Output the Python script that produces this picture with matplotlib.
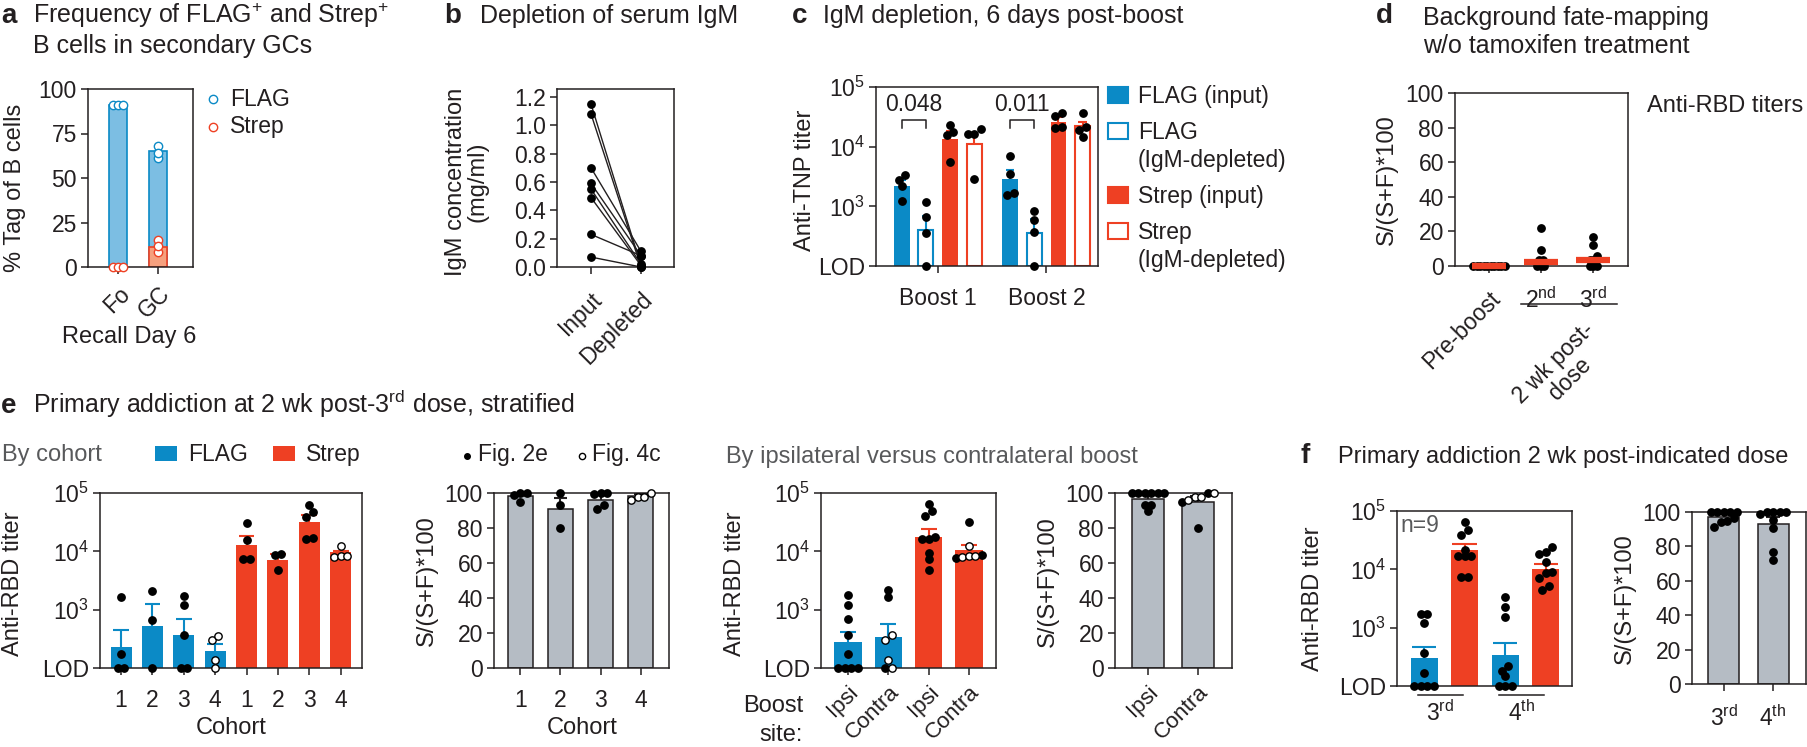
import numpy as np
import matplotlib
matplotlib.use('Agg')
import matplotlib.pyplot as plt
from matplotlib.patches import Rectangle
from matplotlib.lines import Line2D
from matplotlib.ticker import NullLocator

# ---------------- data ----------------
LOD = 100

# a: % tag of B cells
a_groups = ['Fo', 'GC']
a_flag_bar = [91, 65]
a_strep_bar = [0, 11]
a_flag_pts = [[91, 91, 91], [68, 61, 64]]
a_strep_pts = [[0, 0, 0], [15, 8.5, 12]]

# b: serum IgM (mg/ml), paired
b_groups = ['Input', 'Depleted']
b_input = [1.15, 1.08, 0.70, 0.59, 0.55, 0.49, 0.23, 0.07]
b_depleted = [0.01, 0.0, 0.11, 0.08, 0.02, 0.01, 0.08, 0.0]

# c: anti-TNP titers
c_groups = ['Boost 1', 'Boost 2']
c_series = ['FLAG (input)', 'FLAG\n(IgM-depleted)', 'Strep (input)', 'Strep\n(IgM-depleted)']
c_means = [[2220, 400, 13500, 11000], [2840, 364, 26100, 21800]]
c_err_top = [[2760, 685, 18400, 16000], [4070, 625, 31000, 25500]]
c_points = [
    [[2760, 3310, 2220, 1225], [1160, 650, 364, 100],
     [23300, 17500, 15800, 5550], [19700, 16400, 16000, 2870]],
    [[7000, 3490, 1690, 1545], [820, 587, 373, 100],
     [32100, 36600, 20400, 21000], [36600, 21000, 19200, 14800]],
]
c_pvals = ['0.048', '0.011']

# d: background fate-mapping
d_groups = ['Pre-boost', '2$^{\\mathrm{nd}}$', '3$^{\\mathrm{rd}}$']
d_points = [[0] * 10, [22, 9.4, 3.7, 3.7, 0, 0, 0], [17, 12, 5.6, 3.7, 3.7, 0, 0, 0]]
d_means = [0, 2.3, 3.3]

# e: by cohort
e_cohorts = ['1', '2', '3', '4']
e1_flag_mean = [229, 518, 373, 193]
e1_flag_err = [454, 1268, 692, 261]
e1_flag_filled = [[1627, 174, 100, 100], [2117, 674, 100], [1693, 1203, 368, 100, 100], []]
e1_flag_open = [[], [], [], [306, 349, 135, 100]]
e1_strep_mean = [12680, 7200, 31840, 9610]
e1_strep_err = [18070, 9120, 41980, 10000]
e1_strep_filled = [[30600, 15450, 7390, 7390], [8990, 8530, 4720],
                   [63100, 47860, 39260, 16480, 16930], []]
e1_strep_open = [[], [], [], [12190, 7890, 8210, 8210]]

e2_mean = [98.5, 90.8, 96.2, 98.5]
e2_err = [99.5, 97.1, 99.4, 99.5]
e2_filled = [[100, 100, 98.9, 95], [100, 93.1, 79.9], [100, 100, 99.4, 90.8, 93.1], []]
e2_open = [[], [], [], [100, 96, 98, 98]]

# e: by boost site
e3_sites = ['Ipsi', 'Contra', 'Ipsi', 'Contra']
e3_mean = [277, 337, 17740, 10600]
e3_err = [411, 557, 24040, 12900]
e3_filled = [[1758, 1214, 689, 370, 172, 100, 100, 100, 100], [2168, 1667, 100],
             [64700, 40800, 49000, 17300, 16200, 16200, 9290, 7320, 4800], [32100, 7620, 8800]]
e3_open = [[], [365, 308, 135, 100], [], [12190, 7890, 8210, 8210]]

e4_sites = ['Ipsi', 'Contra']
e4_mean = [96.7, 94.8]
e4_err = [99.0, 98.1]
e4_filled = [[100, 100, 100, 100, 100, 100, 93, 93, 90], [100, 94.8, 80]]
e4_open = [[], [98, 98, 100, 96]]

# f: by dose
f_doses = ['3$^{\\mathrm{rd}}$', '4$^{\\mathrm{th}}$']
f1_flag_mean = [302, 336]
f1_flag_err = [460, 555]
f1_flag_pts = [[1700, 1700, 1190, 373, 169, 100, 100, 100, 100],
               [3420, 2300, 1510, 220, 183, 148, 100, 100, 100]]
f1_strep_mean = [21100, 10200]
f1_strep_err = [27400, 12400]
f1_strep_pts = [[63800, 47700, 39200, 21600, 16600, 16600, 16600, 7350, 7350],
                [23800, 19500, 18200, 13100, 8840, 8600, 7060, 4450, 5280]]
f2_mean = [97.1, 92.8]
f2_err = [99.4, 97.1]
f2_pts = [[100, 100, 100, 100, 100, 96.5, 95, 94, 91],
          [100, 100, 100, 100, 99, 95.5, 90.5, 77, 72]]

# ---------------- style ----------------
BLUE = '#0b8ac6'
RED = '#ee4023'
GRAY = '#b5bcc4'
LBLUE = '#7cbee3'
SALMON = '#f5a07e'
INK = '#231f20'
SUB = '#58595b'

plt.rcParams['font.family'] = ['Liberation Sans', 'DejaVu Sans']
plt.rcParams['mathtext.fontset'] = 'custom'
plt.rcParams['mathtext.rm'] = 'Liberation Sans'
plt.rcParams['mathtext.it'] = 'Liberation Sans:italic'
plt.rcParams['mathtext.bf'] = 'Liberation Sans:bold'

TICK = 16.5
LABEL = 17
LEG = 16.5
TITLE = 18
LETTER = 20

W, H = 1808, 747
fig = plt.figure(figsize=(W / 100, H / 100), dpi=100)

BOX = {
    'a': (88, 89, 193, 267),
    'b': (557, 89, 674, 267),
    'c': (876, 87, 1098, 266),
    'd': (1455, 93, 1628, 266),
    'e1': (100, 493, 362, 668),
    'e2': (494, 493, 669, 668),
    'e3': (821, 493, 996, 668),
    'e4': (1115, 493, 1232, 668),
    'f1': (1397, 511, 1572, 686),
    'f2': (1692, 512, 1806, 684),
}


def fx(x):
    return x / W


def fy(y):
    return 1 - y / H


def ftext(x, y, s, **kw):
    kw.setdefault('color', INK)
    return fig.text(fx(x), fy(y), s, **kw)


def make(key, xlim):
    x0, y0, x1, y1 = BOX[key]
    ax = fig.add_axes([fx(x0), fy(y1), (x1 - x0) / W, (y1 - y0) / H])
    ax.set_xlim(*xlim)
    for s in ax.spines.values():
        s.set_linewidth(1.1)
        s.set_color(INK)
    ax.tick_params(direction='out', length=5, width=1.1, color=INK,
                   labelcolor=INK, labelsize=TICK)
    ax.tick_params(axis='y', pad=3)
    ax.tick_params(axis='x', pad=10)
    return ax


def ppu(key, ax):
    x0, _, x1, _ = BOX[key]
    lo, hi = ax.get_xlim()
    return (x1 - x0) / (hi - lo)


def yax(key, ypx):
    _, y0, _, y1 = BOX[key]
    return (y1 - ypx) / (y1 - y0)


def log_axis(ax):
    ax.set_yscale('log')
    ax.set_ylim(LOD, 1e5)
    ax.set_yticks([LOD, 1e3, 1e4, 1e5])
    ax.set_yticklabels(['LOD', '$10^{3}$', '$10^{4}$', '$10^{5}$'])
    ax.yaxis.set_minor_locator(NullLocator())


def pct_axis(ax):
    ax.set_ylim(0, 100)
    ax.set_yticks([0, 20, 40, 60, 80, 100])


def swarm(vals, step, log, tol=0.03):
    v = np.asarray(vals, float)
    if log:
        t = (np.log10(v) - 2) / 3
    else:
        t = v / 100.0
    order = np.argsort(t, kind='stable')
    offs = np.zeros(len(v))
    groups = []
    for i in order:
        if groups and t[i] - t[groups[-1][-1]] < tol:
            groups[-1].append(i)
        else:
            groups.append([i])
    for g in groups:
        n = len(g)
        for k, i in enumerate(g):
            offs[i] = (k - (n - 1) / 2) * step
    return offs


def dots(ax, x, filled, step, log, hollow=(), ms=5.3, edge='black', fill='black'):
    vals = np.array(list(filled) + list(hollow), float)
    if len(vals) == 0:
        return
    is_open = np.array([False] * len(filled) + [True] * len(hollow))
    off = swarm(vals, step, log)
    for flag in (False, True):
        m = is_open == flag
        if m.any():
            ax.plot(x + off[m], vals[m], 'o', ms=ms, mfc='white' if flag else fill,
                    mec=edge, mew=1.0, ls='none', zorder=4, clip_on=False)


def errbar(ax, x, mean, top, color, half):
    ax.vlines(x, mean, top, color=color, lw=1.5, zorder=3)
    ax.hlines(top, x - half, x + half, color=color, lw=1.5, zorder=3)


def bars(ax, xs, means, base, width, color, edge='none', lw=0):
    ax.bar(xs, np.asarray(means, float) - base, bottom=base, width=width,
           color=color, edgecolor=edge, linewidth=lw, zorder=2)


def rot_ticks(ax, labels, size=TICK):
    ax.set_xticklabels(labels, rotation=45, ha='right', rotation_mode='anchor', fontsize=size)


def ylabel(x, y, s):
    ftext(x, y, s, rotation=90, ha='center', va='center', fontsize=LABEL,
          multialignment='center', linespacing=1.0)


# ---------------- titles ----------------
ftext(1, 23, 'a', fontsize=LETTER, fontweight='bold')
ftext(33, 23, 'Frequency of FLAG$^{+}$ and Strep$^{+}$', fontsize=TITLE)
ftext(33, 53, 'B cells in secondary GCs', fontsize=TITLE)
ftext(444, 23, 'b', fontsize=LETTER, fontweight='bold')
ftext(480, 23, 'Depletion of serum IgM', fontsize=TITLE)
ftext(792, 23, 'c', fontsize=LETTER, fontweight='bold')
ftext(823, 23, 'IgM depletion, 6 days post-boost', fontsize=TITLE)
ftext(1376, 23, 'd', fontsize=LETTER, fontweight='bold')
ftext(1423, 25, 'Background fate-mapping', fontsize=TITLE)
ftext(1423, 53, 'w/o tamoxifen treatment', fontsize=TITLE)
ftext(1, 413, 'e', fontsize=LETTER, fontweight='bold')
ftext(33, 413, 'Primary addiction at 2 wk post-3$^{\\mathrm{rd}}$ dose, stratified', fontsize=TITLE)
ftext(1301, 463, 'f', fontsize=LETTER, fontweight='bold')
ftext(1338, 463, 'Primary addiction 2 wk post-indicated dose', fontsize=17)

# ---------------- a ----------------
ax = make('a', (-0.75, 1.875))
ax.tick_params(axis='x', pad=6)
xa = np.arange(len(a_groups))
bars(ax, xa, a_flag_bar, 0, 0.45, LBLUE, BLUE, 1.2)
bars(ax, xa, a_strep_bar, 0, 0.45, SALMON, RED, 1.2)
st = 5 / ppu('a', ax)
for i in range(len(a_groups)):
    dots(ax, xa[i], [], st, False, hollow=a_flag_pts[i], ms=6, edge=BLUE)
    dots(ax, xa[i], [], st, False, hollow=a_strep_pts[i], ms=6, edge=RED)
ax.set_ylim(0, 100)
ax.set_yticks([0, 25, 50, 75, 100])
ax.set_xticks(xa)
rot_ticks(ax, a_groups)
ylabel(15, 188, '% Tag of B cells')
ftext(129, 337, 'Recall Day 6', fontsize=LABEL, ha='center', va='center')
for y, lab, col in [(99, 'FLAG', BLUE), (127, 'Strep', RED)]:
    fig.add_artist(Line2D([fx(213)], [fy(y)], marker='o', ms=6, mfc='white', mec=col,
                          mew=1.0, transform=fig.transFigure))
    ftext(230, y, lab, fontsize=LEG, va='center')

# ---------------- b ----------------
ax = make('b', (-0.68, 1.66))
for v0, v1 in zip(b_input, b_depleted):
    ax.plot([0, 1], [v0, v1], '-', color=INK, lw=1.0, zorder=2)
ax.plot(np.zeros(len(b_input)), b_input, 'o', ms=5.3, color='black', ls='none', zorder=3, clip_on=False)
ax.plot(np.ones(len(b_depleted)), b_depleted, 'o', ms=5.3, color='black', ls='none', zorder=3, clip_on=False)
ax.set_ylim(0, 1.256)
yt = [0, 0.2, 0.4, 0.6, 0.8, 1.0, 1.2]
ax.set_yticks(yt)
ax.set_yticklabels([f'{v:.1f}' for v in yt])
ax.set_xticks([0, 1])
rot_ticks(ax, b_groups)
ylabel(467, 182, 'IgM concentration\n(mg/ml)')

# ---------------- c ----------------
ax = make('c', (-1.07, 8.14))
log_axis(ax)
st = 6.5 / ppu('c', ax)
for g in range(len(c_groups)):
    for i in range(len(c_series)):
        x = g * 4.5 + i
        col = BLUE if i < 2 else RED
        hollow = i % 2 == 1
        if hollow:
            bars(ax, [x], [c_means[g][i]], LOD, 0.62, 'white', col, 1.5)
        else:
            bars(ax, [x], [c_means[g][i]], LOD, 0.65, col)
        errbar(ax, x, c_means[g][i], c_err_top[g][i], col, 0.17)
        dots(ax, x, c_points[g][i], st, True)
    x0, x1 = g * 4.5, g * 4.5 + 1
    ax.plot([x0, x0, x1, x1], [20500, 27500, 27500, 20500], color=INK, lw=1.1, zorder=3)
    ax.text((x0 + x1) / 2, 50000, c_pvals[g], ha='center', va='center', fontsize=TICK, color=INK)
ax.set_xticks([1.5, 6.0])
ax.set_xticklabels(c_groups)
ylabel(805, 180, 'Anti-TNP titer')
leg = [(95, [103], ['FLAG (input)'], BLUE, False),
       (131, [139, 167], ['FLAG', '(IgM-depleted)'], BLUE, True),
       (195, [203], ['Strep (input)'], RED, False),
       (231, [239, 267], ['Strep', '(IgM-depleted)'], RED, True)]
for yc, bases, labs, col, hol in leg:
    fig.add_artist(Rectangle((fx(1108), fy(yc + 8)), 20 / W, 16 / H, transform=fig.transFigure,
                             facecolor='white' if hol else col, edgecolor=col, lw=1.5))
    for yb, lab in zip(bases, labs):
        ftext(1138, yb, lab, fontsize=LEG)

# ---------------- d ----------------
ax = make('d', (-0.65, 2.67))
pct_axis(ax)
st = 3.5 / ppu('d', ax)
for i in range(len(d_groups)):
    dots(ax, i, d_points[i], st, False, ms=5.3)
    ax.plot([i - 0.33, i + 0.33], [d_means[i], d_means[i]], color=RED, lw=4.5,
            solid_capstyle='butt', zorder=5, clip_on=False)
ax.set_xticks(range(len(d_groups)))
ax.set_xticklabels(d_groups)
lbls = ax.get_xticklabels()
lbls[0].set_rotation(45)
lbls[0].set_ha('right')
lbls[0].set_rotation_mode('anchor')
ax.plot([0.62, 2.46], [yax('d', 304)] * 2, color=INK, lw=1.1,
        transform=ax.get_xaxis_transform(), clip_on=False)
ftext(1582, 318, '2 wk post-\ndose', fontsize=TICK, rotation=45, ha='right', va='top',
      rotation_mode='anchor', multialignment='center', linespacing=1.0)
ylabel(1387, 180, 'S/(S+F)*100')
ftext(1647, 112, 'Anti-RBD titers', fontsize=LABEL)

# ---------------- e1 ----------------
ax = make('e1', (-0.67, 7.68))
log_axis(ax)
st = 6.5 / ppu('e1', ax)
xf = np.arange(4)
xs = np.arange(4) + 4
bars(ax, xf, e1_flag_mean, LOD, 0.67, BLUE)
bars(ax, xs, e1_strep_mean, LOD, 0.67, RED)
for i in range(4):
    errbar(ax, xf[i], e1_flag_mean[i], e1_flag_err[i], BLUE, 0.25)
    errbar(ax, xs[i], e1_strep_mean[i], e1_strep_err[i], RED, 0.25)
    dots(ax, xf[i], e1_flag_filled[i], st, True, hollow=e1_flag_open[i])
    dots(ax, xs[i], e1_strep_filled[i], st, True, hollow=e1_strep_open[i])
ax.set_xticks(np.arange(8))
ax.set_xticklabels(e_cohorts + e_cohorts)
ylabel(13, 584, 'Anti-RBD titer')
ftext(231, 728, 'Cohort', fontsize=LABEL, ha='center', va='center')
ftext(2, 461, 'By cohort', fontsize=LABEL, color=SUB)
for x0, lab, col in [(155, 'FLAG', BLUE), (273, 'Strep', RED)]:
    fig.add_artist(Rectangle((fx(x0), fy(461)), 22 / W, 15 / H, transform=fig.transFigure,
                             facecolor=col, edgecolor='none'))
    ftext(x0 + 33, 461, lab, fontsize=LEG)

# ---------------- e2 ----------------
ax = make('e2', (-0.65, 3.7))
pct_axis(ax)
st = 6.5 / ppu('e2', ax)
x2 = np.arange(4)
bars(ax, x2, e2_mean, 0, 0.62, GRAY, INK, 1.1)
for i in range(4):
    errbar(ax, x2[i], e2_mean[i], e2_err[i], INK, 0.17)
    dots(ax, x2[i], e2_filled[i], st, False, hollow=e2_open[i])
ax.set_xticks(x2)
ax.set_xticklabels(e_cohorts)
ylabel(427, 581, 'S/(S+F)*100')
ftext(582, 728, 'Cohort', fontsize=LABEL, ha='center', va='center')
fig.add_artist(Line2D([fx(467)], [fy(456)], marker='o', ms=4, mfc='black', mec='black',
                      transform=fig.transFigure))
ftext(478, 461, 'Fig. 2e', fontsize=LEG)
fig.add_artist(Line2D([fx(582)], [fy(456)], marker='o', ms=4.5, mfc='white', mec='black',
                      mew=1.0, transform=fig.transFigure))
ftext(592, 461, 'Fig. 4c', fontsize=LEG)

# ---------------- e3 ----------------
ax = make('e3', (-0.67, 3.67))
log_axis(ax)
ax.tick_params(axis='x', pad=5)
st = 6.5 / ppu('e3', ax)
x3 = np.arange(4)
cols3 = [BLUE, BLUE, RED, RED]
for i in range(4):
    bars(ax, [x3[i]], [e3_mean[i]], LOD, 0.68, cols3[i])
    errbar(ax, x3[i], e3_mean[i], e3_err[i], cols3[i], 0.2)
    dots(ax, x3[i], e3_filled[i], st, True, hollow=e3_open[i])
ax.set_xticks(x3)
rot_ticks(ax, e3_sites, 16)
ylabel(735, 584, 'Anti-RBD titer')
ftext(803, 706, 'Boost', fontsize=LABEL, ha='right', va='center')
ftext(803, 735, 'site:', fontsize=LABEL, ha='right', va='center')
ftext(726, 463, 'By ipsilateral versus contralateral boost', fontsize=LABEL, color=SUB)

# ---------------- e4 ----------------
ax = make('e4', (-0.66, 1.68))
pct_axis(ax)
ax.tick_params(axis='x', pad=5)
st = 6.5 / ppu('e4', ax)
x4 = np.arange(2)
bars(ax, x4, e4_mean, 0, 0.63, GRAY, INK, 1.1)
for i in range(2):
    errbar(ax, x4[i], e4_mean[i], e4_err[i], INK, 0.15)
    dots(ax, x4[i], e4_filled[i], st, False, hollow=e4_open[i])
ax.set_xticks(x4)
rot_ticks(ax, e4_sites, 16)
ylabel(1048, 582, 'S/(S+F)*100')

# ---------------- f1 ----------------
ax = make('f1', (-0.67, 3.65))
log_axis(ax)
st = 6.5 / ppu('f1', ax)
for k in range(2):
    xb, xr = 2 * k, 2 * k + 1
    bars(ax, [xb], [f1_flag_mean[k]], LOD, 0.67, BLUE)
    bars(ax, [xr], [f1_strep_mean[k]], LOD, 0.67, RED)
    errbar(ax, xb, f1_flag_mean[k], f1_flag_err[k], BLUE, 0.3)
    errbar(ax, xr, f1_strep_mean[k], f1_strep_err[k], RED, 0.3)
    dots(ax, xb, f1_flag_pts[k], st, True)
    dots(ax, xr, f1_strep_pts[k], st, True)
    ax.plot([xb - 0.15, xr - 0.04], [yax('f1', 695)] * 2, color=INK, lw=1.1,
            transform=ax.get_xaxis_transform(), clip_on=False)
    ax.text(xb + 0.4, yax('f1', 713), f_doses[k], ha='center', va='center', fontsize=TICK,
            color=INK, transform=ax.get_xaxis_transform())
ax.set_xticks([])
ax.text(0.02, yax('f1', 525), 'n=9', fontsize=TICK, color=SUB, va='center', ha='left',
        transform=ax.transAxes)
ylabel(1313, 599, 'Anti-RBD titer')

# ---------------- f2 ----------------
ax = make('f2', (-0.65, 1.67))
pct_axis(ax)
st = 6.5 / ppu('f2', ax)
x5 = np.arange(2)
bars(ax, x5, f2_mean, 0, 0.63, GRAY, INK, 1.1)
for i in range(2):
    errbar(ax, x5[i], f2_mean[i], f2_err[i], INK, 0.15)
    dots(ax, x5[i], f2_pts[i], st, False)
ax.set_xticks(x5)
ax.set_xticklabels(f_doses)
ylabel(1625, 599, 'S/(S+F)*100')

fig.savefig('out.png', dpi=100, facecolor='white')
